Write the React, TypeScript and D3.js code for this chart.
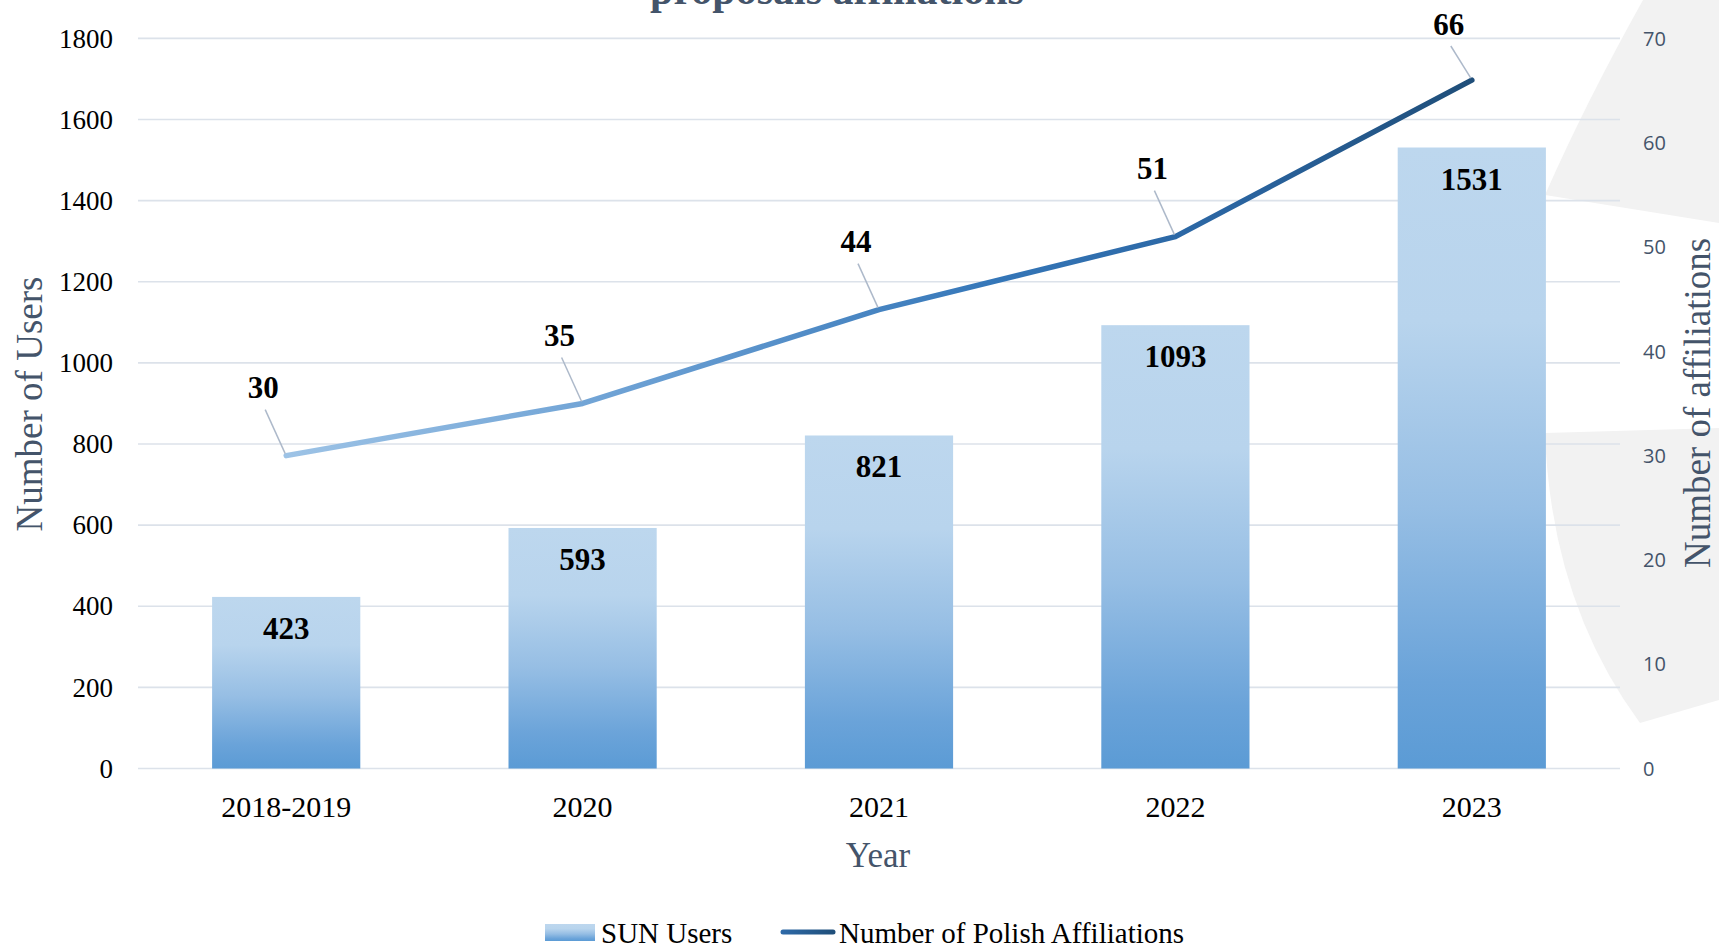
import * as d3 from "d3";

const categories = ["2018-2019", "2020", "2021", "2022", "2023"];
const sunUsers = [423, 593, 821, 1093, 1531];
const affiliations = [30, 35, 44, 51, 66];
const userTicks = [0, 200, 400, 600, 800, 1000, 1200, 1400, 1600, 1800];
const affTicks = [0, 10, 20, 30, 40, 50, 60, 70];

const W = 1719;
const H = 946;
const serif = "'Liberation Serif', 'Times New Roman', serif";
const sans = "'Open Sans', 'Noto Sans', sans-serif";
const slate = "#44546a";

const App = () => {
  const plot = { left: 138, right: 1620, top: 38.4, bottom: 768.5 };

  const x = d3
    .scaleBand<string>()
    .domain(categories)
    .range([plot.left, plot.right])
    .paddingInner(0.5)
    .paddingOuter(0.25);
  const yL = d3.scaleLinear().domain([0, 1800]).range([plot.bottom, plot.top]);
  const yR = d3.scaleLinear().domain([0, 70]).range([plot.bottom, plot.top]);

  const cx = (c: string) => (x(c) ?? 0) + x.bandwidth() / 2;

  const pts: [number, number][] = categories.map((c, i) => [cx(c), yR(affiliations[i])]);
  const linePath = d3.line()(pts) ?? "";

  return (
    <div style={{ position: "fixed", left: 0, top: 0, width: W, height: H, overflow: "hidden", background: "#fff" }}>
      <svg width={W} height={H} style={{ display: "block" }}>
        <defs>
          <linearGradient id="barGrad" x1="0" y1="0" x2="0" y2="1">
            <stop offset="0" stopColor="#bdd7ee" />
            <stop offset="0.28" stopColor="#b8d4ed" />
            <stop offset="0.58" stopColor="#96bee4" />
            <stop offset="0.86" stopColor="#6aa3d9" />
            <stop offset="1" stopColor="#5b9bd5" />
          </linearGradient>
          <linearGradient id="lineGrad" gradientUnits="userSpaceOnUse" x1={pts[0][0]} y1="0" x2={pts[pts.length - 1][0]} y2="0">
            <stop offset="0" stopColor="#9dc3e6" />
            <stop offset="0.3" stopColor="#6a9fd3" />
            <stop offset="0.6" stopColor="#3476b8" />
            <stop offset="0.8" stopColor="#2a64a0" />
            <stop offset="1" stopColor="#1f4e79" />
          </linearGradient>
          <linearGradient id="legLine" gradientUnits="userSpaceOnUse" x1="781" y1="0" x2="835" y2="0">
            <stop offset="0" stopColor="#2e6aa8" />
            <stop offset="1" stopColor="#1f4e79" />
          </linearGradient>
        </defs>

        {/* background decoration on the right */}
        <path d="M1643,0 Q1586,102 1545,195 L1719,223 L1719,0 Z" fill="#f2f2f2" />
        <path d="M1545,433 L1719,428 L1719,700 L1640,723 Q1551,602 1545,433 Z" fill="#f2f2f2" />

        {/* title (second line, partly cut off) */}
        <text x={837} y={4} textAnchor="middle" fontFamily={serif} fontWeight="bold" fontSize={42} fill={slate}>
          proposals affiliations
        </text>

        {/* gridlines */}
        {userTicks.map((t) => (
          <line key={t} x1={plot.left} x2={plot.right} y1={yL(t)} y2={yL(t)} stroke="#dce2ea" strokeWidth={1.6} />
        ))}

        {/* left ticks */}
        {userTicks.map((t) => (
          <text key={t} x={113} y={yL(t)} dy="0.34em" textAnchor="end" fontFamily={serif} fontSize={27} fill="#000">
            {t}
          </text>
        ))}

        {/* right ticks */}
        {affTicks.map((t) => (
          <text key={t} x={1643} y={yR(t)} dy="0.36em" textAnchor="start" fontFamily={sans} fontSize={20} fill={slate}>
            {t}
          </text>
        ))}

        {/* bars */}
        {categories.map((c, i) => (
          <rect
            key={c}
            x={x(c)}
            y={yL(sunUsers[i])}
            width={x.bandwidth()}
            height={yL(0) - yL(sunUsers[i])}
            fill="url(#barGrad)"
          />
        ))}
        {categories.map((c, i) => (
          <text key={c} x={cx(c)} y={yL(sunUsers[i]) + 42} textAnchor="middle" fontFamily={serif} fontWeight="bold" fontSize={31} fill="#000">
            {sunUsers[i]}
          </text>
        ))}

        {/* line */}
        <path d={linePath} fill="none" stroke="url(#lineGrad)" strokeWidth={5.5} strokeLinecap="round" strokeLinejoin="round" />

        {/* line labels with leaders */}
        {pts.map(([px, py], i) => {
          const lx = px - 23;
          const ly = Math.max(py - 68, 24);
          return (
            <g key={i}>
              <line x1={lx + 2} y1={ly + 22} x2={px - 1} y2={py - 2} stroke="#adb9ca" strokeWidth={1.5} />
              <text x={lx} y={ly} dy="0.35em" textAnchor="middle" fontFamily={serif} fontWeight="bold" fontSize={31} fill="#000">
                {affiliations[i]}
              </text>
            </g>
          );
        })}

        {/* x labels */}
        {categories.map((c) => (
          <text key={c} x={cx(c)} y={817} textAnchor="middle" fontFamily={serif} fontSize={30} fill="#000">
            {c}
          </text>
        ))}

        {/* axis titles */}
        <text x={878} y={867} textAnchor="middle" fontFamily={serif} fontSize={35} fill={slate}>
          Year
        </text>
        <text transform="translate(42,404) rotate(-90)" textAnchor="middle" fontFamily={serif} fontSize={37} fill={slate}>
          Number of Users
        </text>
        <text transform="translate(1710,403) rotate(-90)" textAnchor="middle" fontFamily={serif} fontSize={37} fill={slate}>
          Number of affiliations
        </text>

        {/* legend */}
        <rect x={545} y={924} width={50} height={17} fill="url(#barGrad)" />
        <text x={601} y={943} fontFamily={serif} fontSize={29} fill="#000">
          SUN Users
        </text>
        <line x1={783} x2={833} y1={932} y2={932} stroke="url(#legLine)" strokeWidth={5} strokeLinecap="round" />
        <text x={839} y={943} fontFamily={serif} fontSize={29} fill="#000">
          Number of Polish Affiliations
        </text>
      </svg>
    </div>
  );
};

export default App;
